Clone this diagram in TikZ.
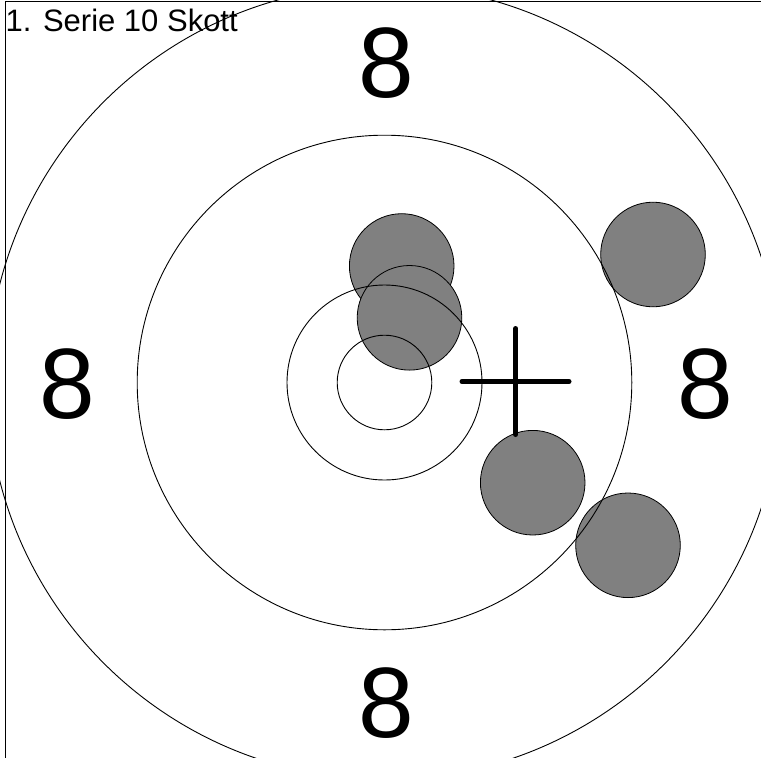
\documentclass[tikz,border=0pt]{standalone}
\usepackage{fontspec}
\setmainfont{Liberation Sans}
\begin{document}
\begin{tikzpicture}[x=1pt,y=-1pt,
  ring/.style={draw=black,line width=0.9pt},
  shot/.style={fill={rgb,255:red,128;green,128;blue,128},draw=black,line width=0.8pt},
  eight/.style={anchor=base,inner sep=0pt,font=\fontsize{100}{100}\selectfont},
  cross/.style={line width=5pt,line cap=round}]
\useasboundingbox (0,0) rectangle (761,758);
\fill[white] (0,0) rectangle (761,758);
% shots
\path[shot] (401.7,266) circle (52.3);
\path[shot] (409.5,317.8) circle (52.3);
\path[shot] (653,254.5) circle (52.3);
\path[shot] (532.7,482.7) circle (52.3);
\path[shot] (628,545.3) circle (52.3);
% rings
\begin{scope}
\clip (0,0) rectangle (761,758);
\draw[ring] (384.5,382.5) circle (47.3);
\draw[ring] (384.5,382.5) circle (97.5);
\draw[ring] (384.5,382.5) circle (247.3);
\draw[ring] (384.5,382.5) circle (397);
\end{scope}
% crosshair
\coordinate (hl) at (462,381.5);
\coordinate (hr) at (569,381.5);
\coordinate (vt) at (515.7,328.5);
\coordinate (vb) at (515.7,434.5);
\draw[cross] (hl) -- (hr);
\draw[cross] (vt) -- (vb);
% frame
\coordinate (f1) at (5.5,758);
\coordinate (f2) at (5.5,1.5);
\coordinate (f3) at (761,1.5);
\draw[line width=1pt] (f1) -- (f2) -- (f3);
% labels
\node[eight] (top8) at (386,97) {8};
\node[eight] (bot8) at (386,737.5) {8};
\node[eight] (left8) at (67,418) {8};
\node[eight] (right8) at (705,418) {8};
\node[anchor=base west,inner sep=0pt,font=\fontsize{31}{31}\selectfont] (title) at (5.5,31.5) {1. Serie 10 Skott};
\end{tikzpicture}
\end{document}
